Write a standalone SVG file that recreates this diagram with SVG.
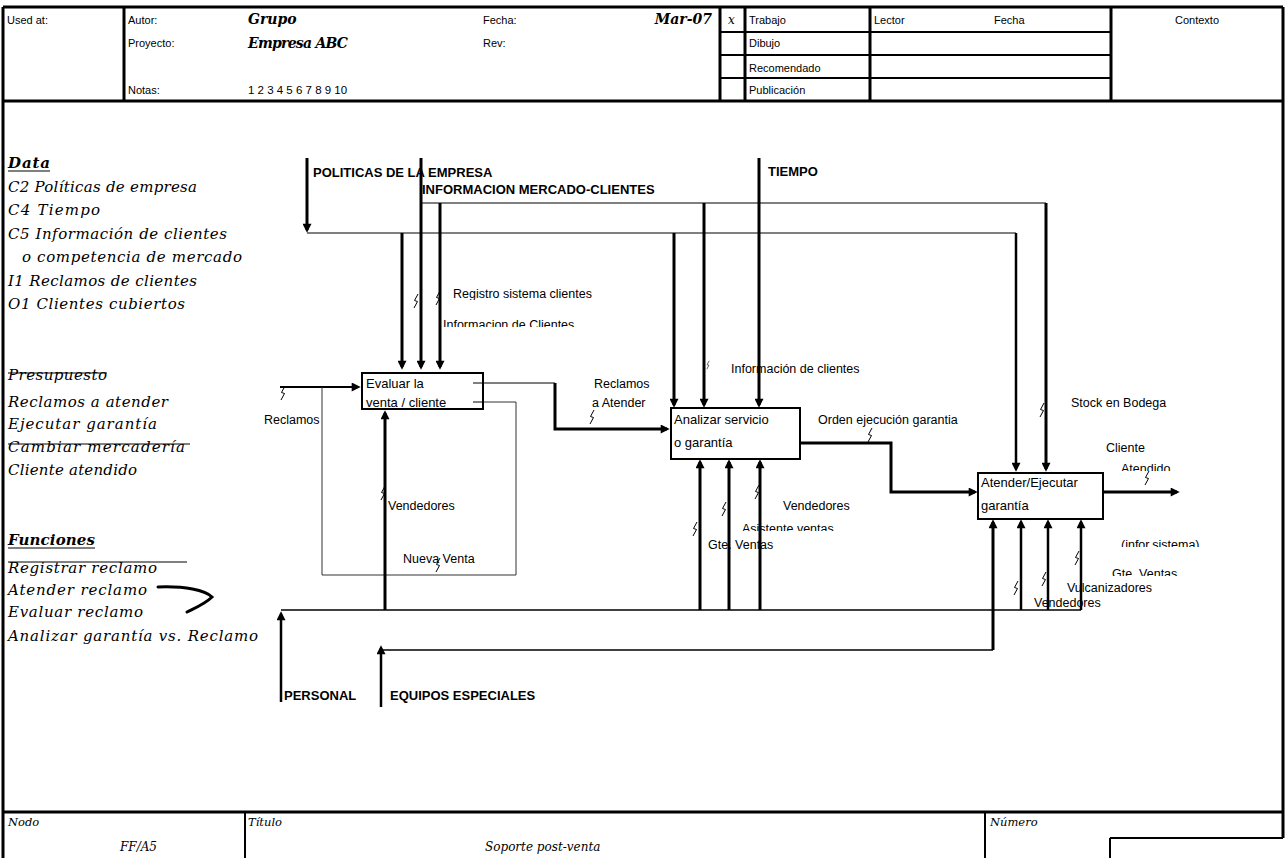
<svg xmlns="http://www.w3.org/2000/svg" width="1286" height="858" viewBox="0 0 1286 858">
<defs>
<style>
.ln{fill:none;stroke:#000}
.w1{stroke-width:1}
.w15{stroke-width:1.5}
.w2{stroke-width:2}
.w25{stroke-width:2.5}
.w3{stroke-width:3}
.gr{stroke:#333}
.arr{marker-end:url(#ah)}
text{fill:#000}
.h{font-family:"Liberation Sans",Arial,sans-serif;font-size:11px}
.lb{font-family:"Liberation Sans",Arial,sans-serif;font-size:12.5px}
.bx{font-family:"Liberation Sans",Arial,sans-serif;font-size:13px}
.bl{font-family:"Liberation Sans",Arial,sans-serif;font-size:13px;font-weight:bold}
.sc{font-family:"DejaVu Serif","Liberation Serif",serif;font-style:italic;font-size:15px}
.scb{font-family:"DejaVu Serif","Liberation Serif",serif;font-style:italic;font-weight:bold;font-size:14px}
.scs{font-family:"DejaVu Serif","Liberation Serif",serif;font-style:italic;font-size:11.5px}
.sq{fill:none;stroke:#000;stroke-width:1}
.box{fill:#fff;stroke:#000;stroke-width:2}
</style>
<marker id="ah" viewBox="0 0 10 10" refX="7" refY="5" markerWidth="10" markerHeight="9" orient="auto" markerUnits="userSpaceOnUse"><path d="M0,0L10,5L0,10z"/></marker>
<path id="sq" d="M2,-7 L-1.5,-0.5 L1.5,0.5 L-2,7"/>
<clipPath id="cInf"><rect x="430" y="300" width="200" height="27"/></clipPath>
<clipPath id="cReg"><rect x="440" y="270" width="220" height="30"/></clipPath>
<clipPath id="cAsi"><rect x="730" y="510" width="120" height="21"/></clipPath>
<clipPath id="cAte"><rect x="1110" y="450" width="100" height="21"/></clipPath>
<clipPath id="cInfo"><rect x="1110" y="525" width="120" height="22"/></clipPath>
<clipPath id="cGte"><rect x="1100" y="555" width="120" height="21"/></clipPath>
</defs>

<g id="frame">
<path class="ln w3" d="M3,7 H1283 M3,7 V858 M1283,7 V838 M3,101 H1283 M3,812 H1283"/>
<path class="ln w3" d="M124,7 V101 M720,7 V101 M745,7 V101 M870,7 V101 M1111,7 V101"/>
<path class="ln w2" d="M720,32 H1111 M720,55 H1111 M720,78 H1111"/>
<path class="ln w2" d="M245,812 V858 M985,812 V858 M1110,838 H1283 M1110,838 V858"/>
</g>

<g id="header-text">
<text class="h" x="7" y="24">Used at:</text>
<text class="h" x="128" y="24">Autor:</text>
<text class="h" x="128" y="47">Proyecto:</text>
<text class="h" x="128" y="94">Notas:</text>
<text class="scb" x="248" y="24">Grupo</text>
<text class="scb" x="248" y="48" textLength="100">Empresa ABC</text>
<text class="h" x="248" y="94" style="font-size:11.5px">1 2 3 4 5 6 7 8 9 10</text>
<text class="h" x="483" y="24">Fecha:</text>
<text class="h" x="483" y="47">Rev:</text>
<text class="scb" x="712" y="24" text-anchor="end">Mar-07</text>
<text class="sc" x="728" y="24" style="font-size:12px">x</text>
<text class="h" x="749" y="24">Trabajo</text>
<text class="h" x="749" y="47">Dibujo</text>
<text class="h" x="749" y="72">Recomendado</text>
<text class="h" x="749" y="94">Publicación</text>
<text class="h" x="874" y="24">Lector</text>
<text class="h" x="994" y="24">Fecha</text>
<text class="h" x="1197" y="24" text-anchor="middle">Contexto</text>
</g>

<g id="notes">
<text class="scb" x="8" y="168" style="font-size:15px" textLength="42">Data</text>
<path class="ln w1" d="M8,171 H50"/>
<text class="sc" x="8" y="192" textLength="189">C2 Políticas de empresa</text>
<text class="sc" x="8" y="215" textLength="92">C4 Tiempo</text>
<text class="sc" x="8" y="239" textLength="219">C5 Información de clientes</text>
<text class="sc" x="22" y="262" textLength="220">o competencia de mercado</text>
<text class="sc" x="8" y="286" textLength="189">I1 Reclamos de clientes</text>
<text class="sc" x="8" y="309" textLength="177">O1 Clientes cubiertos</text>
<text class="sc" x="8" y="380" textLength="99">Presupuesto</text>
<path class="ln w1" d="M8,373 H107"/>
<text class="sc" x="8" y="407" textLength="160">Reclamos a atender</text>
<text class="sc" x="8" y="429" textLength="149">Ejecutar garantía</text>
<text class="sc" x="8" y="452" textLength="177">Cambiar mercadería</text>
<path class="ln w1" d="M8,444 H190"/>
<text class="sc" x="8" y="475" textLength="129">Cliente atendido</text>
<text class="scb" x="8" y="545" style="font-size:15px" textLength="87">Funciones</text>
<path class="ln w1" d="M8,548 H95"/>
<path class="ln w1" d="M8,562 H187"/>
<text class="sc" x="8" y="573" textLength="149">Registrar reclamo</text>
<text class="sc" x="8" y="595" textLength="139">Atender reclamo</text>
<text class="sc" x="8" y="617" textLength="135">Evaluar reclamo</text>
<text class="sc" x="8" y="641" textLength="250">Analizar garantía vs. Reclamo</text>
<path class="ln w3" stroke-linecap="round" d="M158,587 C185,586 205,590 212,597 C205,604 195,608 187,612"/>
</g>

<g id="labels">
<text class="bl" x="313" y="177">POLITICAS DE LA EMPRESA</text>
<text class="bl" x="422" y="194">INFORMACION MERCADO-CLIENTES</text>
<text class="bl" x="768" y="176">TIEMPO</text>
<text class="lb" x="453" y="298" clip-path="url(#cReg)">Registro sistema clientes</text>
<text class="lb" x="443" y="329" clip-path="url(#cInf)">Informacion de Clientes</text>
<text class="lb" x="731" y="373">Información de clientes</text>
<text class="lb" x="264" y="424">Reclamos</text>
<text class="lb" x="594" y="388">Reclamos</text>
<text class="lb" x="592" y="407">a Atender</text>
<text class="lb" x="388" y="510">Vendedores</text>
<text class="lb" x="403" y="563">Nueva Venta</text>
<text class="lb" x="818" y="424">Orden ejecución garantia</text>
<text class="lb" x="783" y="510">Vendedores</text>
<text class="lb" x="742" y="533" clip-path="url(#cAsi)">Asistente ventas</text>
<text class="lb" x="708" y="549">Gte. Ventas</text>
<text class="lb" x="1071" y="407">Stock en Bodega</text>
<text class="lb" x="1106" y="452">Cliente</text>
<text class="lb" x="1121" y="473" clip-path="url(#cAte)">Atendido</text>
<text class="lb" x="1121" y="549" clip-path="url(#cInfo)">(infor.sistema)</text>
<text class="lb" x="1112" y="578" clip-path="url(#cGte)">Gte. Ventas</text>
<text class="lb" x="1067" y="592">Vulcanizadores</text>
<text class="lb" x="1034" y="607">Vendedores</text>
<text class="bl" x="284" y="700">PERSONAL</text>
<text class="bl" x="390" y="700">EQUIPOS ESPECIALES</text>
</g>

<g id="connectors">
<path class="ln w3 arr" d="M307,158 V230"/>
<path class="ln w1" d="M307,233 H1016"/>
<path class="ln w25 arr" d="M1016,233 V469"/>
<path class="ln w3 arr" d="M421,158 V367"/>
<path class="ln w1" d="M421,203 H1046"/>
<path class="ln w3 arr" d="M1046,203 V469"/>
<path class="ln w3 arr" d="M402,233 V367"/>
<path class="ln w3 arr" d="M440,203 V367"/>
<path class="ln w3 arr" d="M674,233 V405"/>
<path class="ln w3 arr" d="M704,203 V405"/>
<path class="ln w3 arr" d="M759,158 V405"/>
<path class="ln w2 arr" d="M280,387 H358"/>
<path class="ln w1" d="M473,383 H555"/>
<path class="ln w3 arr" d="M555,383 V429 H667"/>
<path class="ln w1 gr" d="M473,402 H516 V575 H322 V387"/>
<path class="ln w3 arr" d="M800,443 H891 V492 H975"/>
<path class="ln w3 arr" d="M1103,492 H1177"/>
<path class="ln w15" d="M281,610 H1081"/>
<path class="ln w25 arr" d="M281,702 V614"/>
<path class="ln w3 arr" d="M385,610 V413"/>
<path class="ln w3 arr" d="M700,610 V462"/>
<path class="ln w3 arr" d="M729,610 V462"/>
<path class="ln w3 arr" d="M760,610 V462"/>
<path class="ln w25 arr" d="M1021,610 V522"/>
<path class="ln w25 arr" d="M1048,610 V522"/>
<path class="ln w25 arr" d="M1081,610 V522"/>
<path class="ln w25 arr" d="M381,707 V648"/>
<path class="ln w15" d="M381,650 H993"/>
<path class="ln w3 arr" d="M993,650 V522"/>
<g class="sq">
<use href="#sq" transform="translate(283,393)"/>
<use href="#sq" transform="translate(416,301)"/>
<use href="#sq" transform="translate(438,298)"/>
<use href="#sq" transform="translate(592,417)"/>
<use href="#sq" transform="translate(383,493)"/>
<use href="#sq" transform="translate(438,565)"/>
<use href="#sq" transform="translate(708,365) scale(0.6)"/>
<use href="#sq" transform="translate(870,435)"/>
<use href="#sq" transform="translate(1042,410)"/>
<use href="#sq" transform="translate(1147,478)"/>
<use href="#sq" transform="translate(695,529)"/>
<use href="#sq" transform="translate(724,509)"/>
<use href="#sq" transform="translate(757,492)"/>
<use href="#sq" transform="translate(1016,588)"/>
<use href="#sq" transform="translate(1044,579)"/>
<use href="#sq" transform="translate(1077,558)"/>
</g>
</g>

<g id="node-A1">
<rect class="box" x="362" y="373" width="121" height="36"/>
<text class="bx" x="366" y="388">Evaluar la</text>
<text class="bx" x="366" y="407">venta / cliente</text>
<path class="ln w1" d="M473,383 H483 M473,402 H483"/>
</g>
<g id="node-A2">
<rect class="box" x="671" y="408" width="129" height="51"/>
<text class="bx" x="674" y="424">Analizar servicio</text>
<text class="bx" x="674" y="447">o garantía</text>
</g>
<g id="node-A3">
<rect class="box" x="978" y="473" width="125" height="46"/>
<text class="bx" x="981" y="487">Atender/Ejecutar</text>
<text class="bx" x="981" y="510">garantía</text>
</g>

<g id="title-block">
<text class="scs" x="8" y="826">Nodo</text>
<text class="scs" x="120" y="851" style="font-size:12px">FF/A5</text>
<text class="scs" x="248" y="826">Título</text>
<text class="scs" x="485" y="851" style="font-size:12px">Soporte post-venta</text>
<text class="scs" x="990" y="826">Número</text>
</g>
</svg>
